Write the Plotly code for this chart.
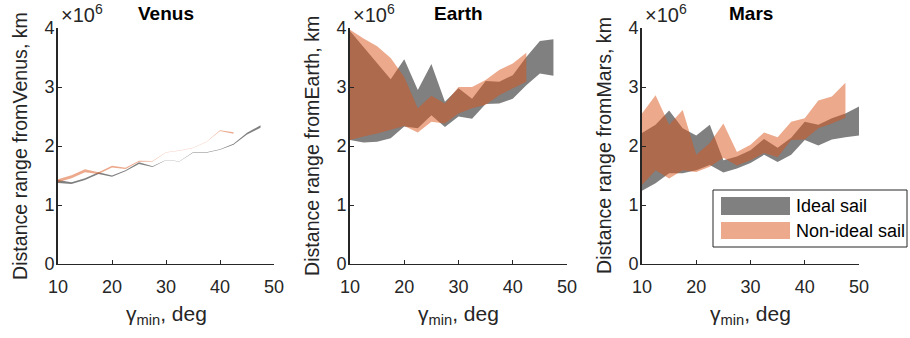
import plotly.graph_objects as go

# ---------------- data (distance in units of 1e6 km) ----------------
gamma_ideal = [10, 12.5, 15, 17.5, 20, 22.5, 25, 27.5, 30, 32.5, 35, 37.5, 40, 42.5, 45, 47.5]
gamma_nonideal = [10, 12.5, 15, 17.5, 20, 22.5, 25, 27.5, 30, 32.5, 35, 37.5, 40, 42.5]
gamma_mars_ideal = [10, 12.5, 15, 17.5, 20, 22.5, 25, 27.5, 30, 32.5, 35, 37.5, 40, 42.5, 45, 47.5, 50]
gamma_mars_nonideal = [10, 12.5, 15, 17.5, 20, 22.5, 25, 27.5, 30, 32.5, 35, 37.5, 40, 42.5, 45, 47.5]

venus_ideal_lo = [1.375, 1.355, 1.425, 1.525, 1.48, 1.57, 1.695, 1.644, 1.757, 1.737, 1.887, 1.887, 1.935, 2.022, 2.195, 2.31]
venus_ideal_hi = [1.425, 1.385, 1.455, 1.555, 1.50, 1.59, 1.725, 1.656, 1.763, 1.743, 1.893, 1.893, 1.945, 2.037, 2.225, 2.35]
venus_non_lo = [1.385, 1.455, 1.555, 1.525, 1.635, 1.61, 1.733, 1.736, 1.888, 1.918, 1.968, 2.067, 2.254, 2.208]
venus_non_hi = [1.435, 1.505, 1.605, 1.555, 1.665, 1.63, 1.748, 1.744, 1.892, 1.922, 1.972, 2.073, 2.266, 2.233]

earth_ideal_lo = [2.10, 2.06, 2.07, 2.13, 2.33, 2.30, 2.52, 2.32, 2.50, 2.46, 2.71, 2.72, 2.80, 3.03, 3.23, 3.19]
earth_ideal_hi = [3.95, 3.68, 3.40, 3.13, 3.47, 2.95, 3.39, 2.75, 2.98, 2.80, 3.10, 3.09, 3.20, 3.51, 3.78, 3.81]
earth_non_lo = [2.10, 2.16, 2.21, 2.27, 2.34, 2.23, 2.41, 2.38, 2.55, 2.64, 2.70, 2.86, 2.98, 3.09]
earth_non_hi = [3.97, 3.82, 3.69, 3.49, 3.17, 2.64, 2.85, 2.72, 3.00, 3.00, 3.12, 3.29, 3.40, 3.58]

mars_ideal_lo = [1.24, 1.37, 1.54, 1.54, 1.59, 1.68, 1.55, 1.62, 1.71, 1.85, 1.73, 1.85, 2.10, 2.01, 2.11, 2.15, 2.18]
mars_ideal_hi = [2.22, 2.36, 2.60, 2.30, 2.18, 2.36, 1.76, 1.82, 1.93, 2.12, 1.97, 2.14, 2.41, 2.36, 2.47, 2.55, 2.67]
mars_non_lo = [1.34, 1.59, 1.45, 1.59, 1.56, 1.65, 1.80, 1.67, 1.76, 1.88, 1.81, 2.10, 2.11, 2.30, 2.38, 2.48]
mars_non_hi = [2.55, 2.86, 2.36, 2.61, 1.85, 2.05, 2.38, 1.90, 2.02, 2.23, 2.15, 2.41, 2.47, 2.77, 2.84, 3.07]

planets = ["Venus", "Earth", "Mars"]
x_ticks = [10, 20, 30, 40, 50]
y_ticks = [0, 1, 2, 3, 4]
series_names = ["Ideal sail", "Non-ideal sail"]

# ---------------- style ----------------
W, H = 910, 338
ML, MR, MT, MB = 58, 51, 28, 74
PW, PH = W - ML - MR, H - MT - MB
FONT = "Liberation Sans, Arial, sans-serif"
AX = "#262626"
GREY = "rgb(128,128,128)"
ORANGE = "rgba(217,83,25,0.5)"
ORANGE_SWATCH = "rgb(236,169,140)"

panel_px = [(58, 274), (350, 567), (642, 859)]


def px_x(X):
    return (X - ML) / PW


def px_y(Y):
    return (H - MB - Y) / PH


domains = [[px_x(a), px_x(b)] for a, b in panel_px]

data = [
    (gamma_ideal, venus_ideal_lo, venus_ideal_hi, gamma_nonideal, venus_non_lo, venus_non_hi),
    (gamma_ideal, earth_ideal_lo, earth_ideal_hi, gamma_nonideal, earth_non_lo, earth_non_hi),
    (gamma_mars_ideal, mars_ideal_lo, mars_ideal_hi, gamma_mars_nonideal, mars_non_lo, mars_non_hi),
]

fig = go.Figure()


def band(x, lo, hi, color, axis_idx, name):
    xs = list(x) + list(x)[::-1]
    ys = list(hi) + list(lo)[::-1]
    suffix = "" if axis_idx == 0 else str(axis_idx + 1)
    fig.add_trace(go.Scatter(
        x=xs, y=ys, fill="toself", fillcolor=color, mode="lines",
        line=dict(width=0, color=color), name=name, showlegend=False,
        xaxis="x" + suffix, yaxis="y" + suffix, hoverinfo="skip"))


for i, (xi, li, hi_, xn, ln, hn) in enumerate(data):
    band(xi, li, hi_, GREY, i, series_names[0])
    band(xn, ln, hn, ORANGE, i, series_names[1])

layout = dict(
    width=W, height=H, margin=dict(l=ML, r=MR, t=MT, b=MB),
    paper_bgcolor="white", plot_bgcolor="white", showlegend=False,
    font=dict(family=FONT, size=18, color=AX),
)

annotations = []
shapes = []
for i, name in enumerate(planets):
    suffix = "" if i == 0 else str(i + 1)
    layout["xaxis" + suffix] = dict(
        domain=domains[i], range=[10, 50], tickvals=x_ticks, ticktext=[str(t) for t in x_ticks],
        showline=True, linecolor=AX, linewidth=1, ticks="inside", ticklen=4, tickcolor=AX,
        showgrid=False, zeroline=False, anchor="y" + suffix, ticklabelstandoff=6,
        tickfont=dict(family=FONT, size=18, color=AX), fixedrange=True)
    layout["yaxis" + suffix] = dict(
        domain=[0, 1], range=[0, 4], tickvals=y_ticks, ticktext=[str(t) for t in y_ticks],
        showline=True, linecolor=AX, linewidth=2, ticks="inside", ticklen=4, tickcolor=AX,
        showgrid=False, zeroline=False, anchor="x" + suffix, ticklabelstandoff=-2,
        tickfont=dict(family=FONT, size=18, color=AX), fixedrange=True)
    a, b = panel_px[i]
    cx = px_x((a + b) / 2)
    # title
    annotations.append(dict(text="<b>%s</b>" % name, x=cx, y=px_y(14), xref="paper", yref="paper",
                            xanchor="center", yanchor="middle", showarrow=False,
                            font=dict(family=FONT, size=19, color="black")))
    # exponent label
    annotations.append(dict(text="×10<sup>6</sup>", x=px_x(a + 1), y=px_y(28), xref="paper", yref="paper",
                            xanchor="left", yanchor="bottom", showarrow=False,
                            font=dict(family=FONT, size=20, color=AX)))
    # x title
    annotations.append(dict(text="γ<sub>min</sub>, deg", x=cx, y=px_y(300), xref="paper", yref="paper",
                            xanchor="center", yanchor="top", showarrow=False,
                            font=dict(family=FONT, size=21, color=AX)))
    # y title
    annotations.append(dict(text="Distance range from%s, km" % name, x=px_x(a - 38), y=px_y(146),
                            xref="paper", yref="paper", xanchor="center", yanchor="middle",
                            textangle=-90, showarrow=False,
                            font=dict(family=FONT, size=19.6, color=AX)))

# legend (drawn manually to match the large swatches)
shapes.append(dict(type="rect", xref="paper", yref="paper", x0=px_x(713), x1=px_x(907),
                   y0=px_y(247), y1=px_y(190), line=dict(color=AX, width=1), fillcolor="white", layer="above"))
shapes.append(dict(type="rect", xref="paper", yref="paper", x0=px_x(721), x1=px_x(790),
                   y0=px_y(215), y1=px_y(197), line=dict(width=0), fillcolor=GREY, layer="above"))
shapes.append(dict(type="rect", xref="paper", yref="paper", x0=px_x(721), x1=px_x(790),
                   y0=px_y(239), y1=px_y(222), line=dict(width=0), fillcolor=ORANGE_SWATCH, layer="above"))
for label, yc in zip(series_names, [206, 231]):
    annotations.append(dict(text=label, x=px_x(794), y=px_y(yc), xref="paper", yref="paper",
                            xanchor="left", yanchor="middle", showarrow=False,
                            font=dict(family=FONT, size=18, color="black")))

layout["annotations"] = annotations
layout["shapes"] = shapes
fig.update_layout(**layout)
fig.write_html("out.html")
